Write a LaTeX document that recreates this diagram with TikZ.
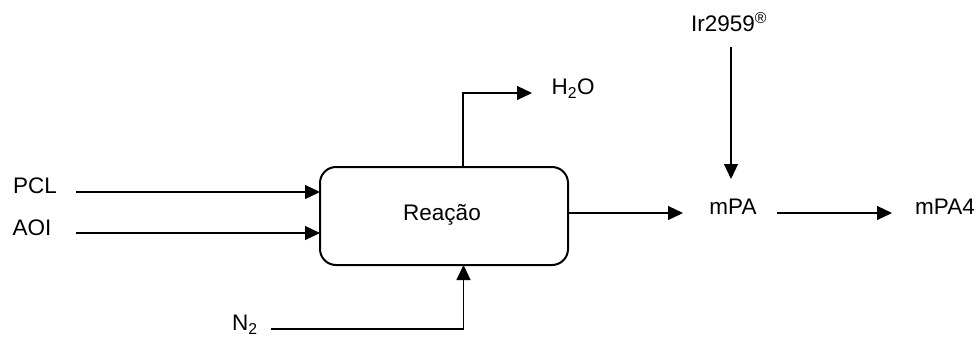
\documentclass[tikz,border=0pt]{standalone}
\usepackage{fontspec}
\setmainfont{Liberation Sans}
\usetikzlibrary{arrows.meta}
\begin{document}
\begin{tikzpicture}[x=1pt,y=-1pt,
  lbl/.style={inner sep=0pt, font=\fontsize{22.5}{26}\selectfont},
  flow/.style={line width=1.2pt, -{Triangle[length=15pt,width=14pt]}},
  procbox/.style={draw, line width=2pt, rounded corners=16pt}]
  \useasboundingbox (0,0) rectangle (979,338);
  % process block
  \draw[procbox] (320,167) rectangle (568,265);
  \node[lbl] (reac) at (442,215) {Reação};
  \coordinate (boxW1) at (320,192);
  \coordinate (boxW2) at (320,233);
  \coordinate (boxS) at (463.5,265);
  \coordinate (boxN) at (463,167);
  \coordinate (boxE) at (568,213);
  % feeds
  \node[lbl] (pcl) at (35,186) {PCL};
  \node[lbl] (aoi) at (32,228) {AOI};
  \node[lbl] (n2) at (245,325) {N\textsubscript{2}};
  \coordinate (pclS) at (76,192);
  \coordinate (aoiS) at (76,233);
  \coordinate (n2S) at (271,329);
  \draw[flow] (pclS) -- (boxW1);
  \draw[flow] (aoiS) -- (boxW2);
  \draw[flow] (n2S) -| (boxS);
  % water out
  \node[lbl] (h2o) at (573,89) {H\textsubscript{2}O};
  \coordinate (h2oE) at (532,93);
  \draw[flow] (boxN) |- (h2oE);
  % product chain
  \node[lbl] (mpa) at (733,207) {mPA};
  \node[lbl] (mpa4) at (945,207) {mPA4};
  \node[lbl] (ir) at (729,22) {Ir2959\textsuperscript{\textregistered}};
  \coordinate (mpaW) at (683,213);
  \coordinate (mpaE) at (777,213);
  \coordinate (mpa4W) at (892,213);
  \coordinate (irS) at (731,47);
  \coordinate (mpaN) at (731,179);
  \draw[flow] (boxE) -- (mpaW);
  \draw[flow] (mpaE) -- (mpa4W);
  \draw[flow] (irS) -- (mpaN);
\end{tikzpicture}
\end{document}
